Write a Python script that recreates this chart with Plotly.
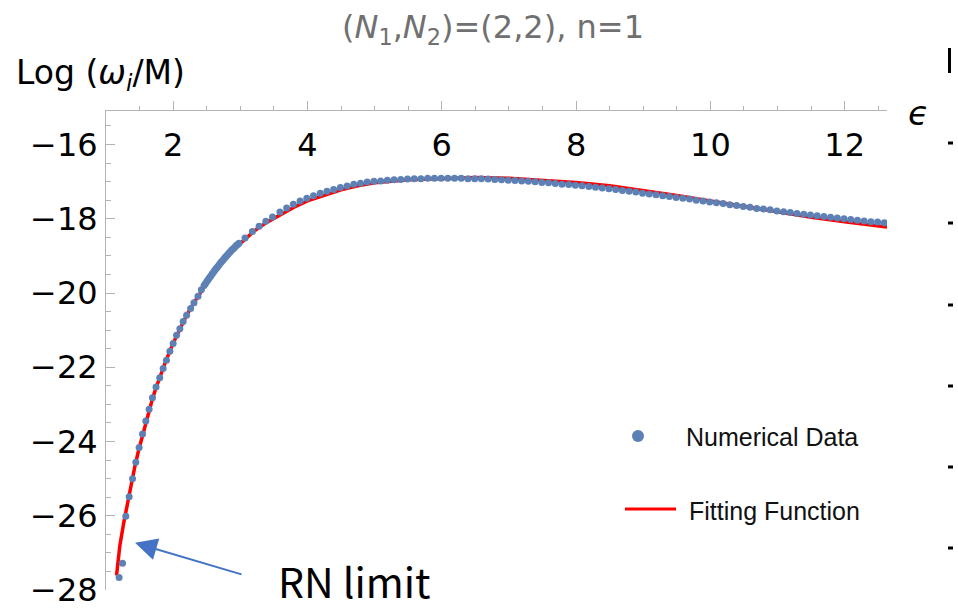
import plotly.graph_objects as go

# ---------------- data ----------------
num_x = [1.195, 1.246, 1.295, 1.345, 1.395, 1.444, 1.493, 1.544, 1.593, 1.642,
         1.692, 1.745, 1.800, 1.851, 1.900, 1.951, 2.000, 2.050, 2.100, 2.149,
         2.200, 2.260, 2.310, 2.370, 2.420,
         2.46, 2.48, 2.50, 2.52, 2.54, 2.56, 2.58, 2.60, 2.62, 2.64, 2.66, 2.68,
         2.70, 2.72, 2.74, 2.76, 2.78, 2.80, 2.82, 2.84, 2.86, 2.88, 2.90, 2.92,
         2.94, 2.96, 2.98,
         3.07, 3.18, 3.28, 3.38, 3.48,
         3.59, 3.69, 3.79, 3.89, 3.99, 4.09, 4.19, 4.29, 4.39, 4.49,
         4.59, 4.69, 4.79, 4.89, 4.99, 5.09, 5.19, 5.29, 5.39, 5.49,
         5.59, 5.69, 5.79, 5.89, 5.99, 6.09, 6.19, 6.29, 6.39, 6.49,
         6.59, 6.69, 6.79, 6.89, 6.99, 7.09, 7.19, 7.29, 7.39, 7.49,
         7.59, 7.69, 7.79, 7.89, 7.99, 8.09, 8.19, 8.29, 8.39, 8.49,
         8.59, 8.69, 8.79, 8.89, 8.99, 9.09, 9.19, 9.29, 9.39, 9.49,
         9.59, 9.69, 9.79, 9.89, 9.99, 10.09, 10.19, 10.29, 10.39, 10.49,
         10.59, 10.69, 10.79, 10.89, 10.99, 11.09, 11.19, 11.29, 11.39, 11.49,
         11.59, 11.69, 11.79, 11.89, 11.99, 12.09, 12.19, 12.29, 12.39, 12.49,
         12.59]
num_y = [-27.66, -27.28, -26.01, -25.49, -25.00, -24.56, -24.16, -23.80, -23.45, -23.13,
         -22.82, -22.53, -22.28, -22.03, -21.81, -21.57, -21.36, -21.14, -20.96, -20.77,
         -20.60, -20.42, -20.26, -20.09, -19.91,
         -19.80, -19.75, -19.69, -19.64, -19.59, -19.54, -19.49, -19.44, -19.39, -19.34,
         -19.30, -19.25, -19.20, -19.16, -19.12, -19.07, -19.03, -18.99, -18.95, -18.91,
         -18.87, -18.83, -18.80, -18.76, -18.72, -18.69, -18.66,
         -18.52, -18.34, -18.20, -18.07, -17.95,
         -17.82, -17.71, -17.61, -17.52, -17.45, -17.38, -17.31, -17.26, -17.21, -17.16,
         -17.12, -17.07, -17.04, -17.01, -16.99, -16.98, -16.96, -16.95, -16.94, -16.93,
         -16.92, -16.92, -16.91, -16.91, -16.91, -16.91, -16.91, -16.91, -16.92, -16.92,
         -16.92, -16.93, -16.94, -16.95, -16.96, -16.97, -16.98, -16.99, -17.00, -17.02,
         -17.03, -17.05, -17.07, -17.08, -17.10, -17.11, -17.13, -17.15, -17.17, -17.19,
         -17.21, -17.24, -17.26, -17.28, -17.31, -17.33, -17.35, -17.38, -17.40, -17.43,
         -17.45, -17.47, -17.50, -17.52, -17.55, -17.57, -17.59, -17.62, -17.64, -17.67,
         -17.69, -17.72, -17.74, -17.76, -17.79, -17.81, -17.83, -17.86, -17.88, -17.90,
         -17.92, -17.94, -17.96, -17.98, -18.00, -18.02, -18.04, -18.06, -18.08, -18.09,
         -18.11]

fit_x = [1.157, 1.206, 1.265, 1.325, 1.380, 1.430, 1.484, 1.538, 1.588, 1.638,
         1.687, 1.738, 1.80, 1.90, 2.00, 2.10, 2.20, 2.30, 2.40, 2.50,
         2.60, 2.70, 2.80, 2.90, 3.00, 3.10, 3.20, 3.40, 3.60, 3.80,
         4.00, 4.25, 4.50, 4.75, 5.00, 5.50, 6.00, 6.50, 7.00, 7.50,
         8.00, 8.50, 9.00, 9.50, 10.00, 10.50, 11.00, 11.50, 12.00, 12.63]
fit_y = [-27.61, -26.81, -26.18, -25.60, -25.10, -24.67, -24.25, -23.87, -23.52, -23.19,
         -22.88, -22.59, -22.27, -21.79, -21.35, -20.95, -20.60, -20.29, -20.00, -19.73,
         -19.47, -19.23, -19.02, -18.83, -18.67, -18.49, -18.34, -18.09, -17.89, -17.69,
         -17.52, -17.36, -17.22, -17.11, -17.03, -16.95, -16.91, -16.89, -16.91, -16.96,
         -17.02, -17.11, -17.23, -17.37, -17.52, -17.67, -17.82, -17.96, -18.08, -18.22]

x_ticks = [2, 4, 6, 8, 10, 12]
y_ticks = [-16, -18, -20, -22, -24, -26, -28]
y_ticktext = ["\u221216", "\u221218", "\u221220", "\u221222", "\u221224", "\u221226", "\u221228"]

series_names = ["Numerical Data", "Fitting Function"]
title_text = "(<i>N</i><sub>1</sub>,<i>N</i><sub>2</sub>)=(2,2), n=1"
ylabel_text = "Log (<i>\u03c9<sub>i</sub></i>/M)"
xlabel_text = "<i>\u03f5</i>"
note_text = "RN limit"

# ---------------- styling ----------------
W, H = 958, 609
ML, MR, MT, MB = 106, 71, 110, 19
PW, PH = W - ML - MR, H - MT - MB
BLUE = "#5E81B5"
RED = "#FF0000"
AXIS = "#b3b3b3"
TICKFONT = "DejaVu Sans"


def px(xp):
    return (xp - ML) / PW


def py(yp):
    return (H - MB - yp) / PH


fig = go.Figure()
fig.add_trace(go.Scatter(x=fit_x, y=fit_y, mode="lines", name=series_names[1],
                         line=dict(color=RED, width=3.5), showlegend=False))
fig.add_trace(go.Scatter(x=num_x, y=num_y, mode="markers", name=series_names[0],
                         marker=dict(color=BLUE, size=7, line=dict(width=0)),
                         showlegend=False))

shapes = []
annotations = []

# legend (drawn by hand to match the reference layout)
shapes.append(dict(type="circle", xref="paper", yref="paper",
                   x0=px(632), x1=px(644), y0=py(442), y1=py(430),
                   fillcolor=BLUE, line=dict(width=0)))
shapes.append(dict(type="line", xref="paper", yref="paper",
                   x0=px(625), x1=px(676), y0=py(509), y1=py(509),
                   line=dict(color=RED, width=3)))
annotations.append(dict(xref="paper", yref="paper", x=px(684), y=py(437),
                        xanchor="left", yanchor="middle", text=series_names[0],
                        showarrow=False,
                        font=dict(family="Liberation Sans", size=25, color="#111111")))
annotations.append(dict(xref="paper", yref="paper", x=px(687), y=py(511),
                        xanchor="left", yanchor="middle", text=series_names[1],
                        showarrow=False,
                        font=dict(family="Liberation Sans", size=25, color="#111111")))

# axis labels
annotations.append(dict(xref="paper", yref="paper", x=px(14), y=py(74),
                        xanchor="left", yanchor="middle", text=ylabel_text,
                        showarrow=False,
                        font=dict(family=TICKFONT, size=33, color="#000000")))
annotations.append(dict(xref="paper", yref="paper", x=px(918), y=py(113),
                        xanchor="center", yanchor="middle", text=xlabel_text,
                        showarrow=False,
                        font=dict(family=TICKFONT, size=34, color="#000000")))

# RN limit note with arrow
annotations.append(dict(xref="x", yref="y", x=1.432, y=-26.73, ax=108, ay=32,
                        axref="pixel", ayref="pixel", text="", showarrow=True,
                        arrowhead=2, arrowsize=2.2, arrowwidth=2,
                        arrowcolor="#4472C4"))
annotations.append(dict(xref="paper", yref="paper", x=px(354), y=py(580),
                        xanchor="center", yanchor="middle", text=note_text,
                        showarrow=False,
                        font=dict(family="Noto Sans CJK SC", size=41, color="#000000")))

# fragments of the neighbouring panel visible at the right edge
shapes.append(dict(type="rect", xref="paper", yref="paper",
                   x0=px(948), x1=px(951), y0=py(73), y1=py(48),
                   fillcolor="#000000", line=dict(width=0)))
for yy in [143, 223, 305, 386, 467, 548]:
    shapes.append(dict(type="rect", xref="paper", yref="paper",
                       x0=px(948), x1=px(953), y0=py(yy + 1.5), y1=py(yy - 1.5),
                       fillcolor="#000000", line=dict(width=0)))

fig.update_layout(
    width=W, height=H,
    margin=dict(l=ML, r=MR, t=MT, b=MB, pad=0, autoexpand=False),
    paper_bgcolor="white", plot_bgcolor="white",
    showlegend=False,
    title=dict(text=title_text, x=493 / W, xref="container", xanchor="center",
               y=1 - 27 / H, yref="container", yanchor="middle",
               font=dict(family=TICKFONT, size=32, color="#707070")),
    shapes=shapes,
    annotations=annotations,
    xaxis=dict(
        range=[1.0, 12.63], anchor="free", position=1, side="bottom",
        automargin=False, showgrid=False, zeroline=False,
        showline=True, linecolor=AXIS, linewidth=1,
        tickmode="array", tickvals=x_ticks,
        ticks="inside", ticklen=9, tickwidth=1, tickcolor=AXIS,
        ticklabelstandoff=7, ticklabeloverflow="allow",
        tickfont=dict(family=TICKFONT, size=32, color="#000000"),
        minor=dict(ticks="inside", dtick=0.5, tick0=0, ticklen=4,
                   tickcolor=AXIS, tickwidth=1, showgrid=False),
    ),
    yaxis=dict(
        range=[-28.0, -15.07], automargin=False, showgrid=False, zeroline=False,
        showline=True, linecolor=AXIS, linewidth=1,
        tickmode="array", tickvals=y_ticks, ticktext=y_ticktext,
        ticks="inside", ticklen=9, tickwidth=1, tickcolor=AXIS,
        ticklabelstandoff=1, ticklabeloverflow="allow",
        tickfont=dict(family=TICKFONT, size=32, color="#000000"),
        minor=dict(ticks="inside", dtick=0.5, tick0=0, ticklen=5,
                   tickcolor=AXIS, tickwidth=1, showgrid=False),
    ),
)

fig.write_html("out.html", config={"displayModeBar": False},
               post_script="document.body.style.margin='0';"
                           "document.body.style.padding='0';"
                           "document.body.style.overflow='hidden';")
